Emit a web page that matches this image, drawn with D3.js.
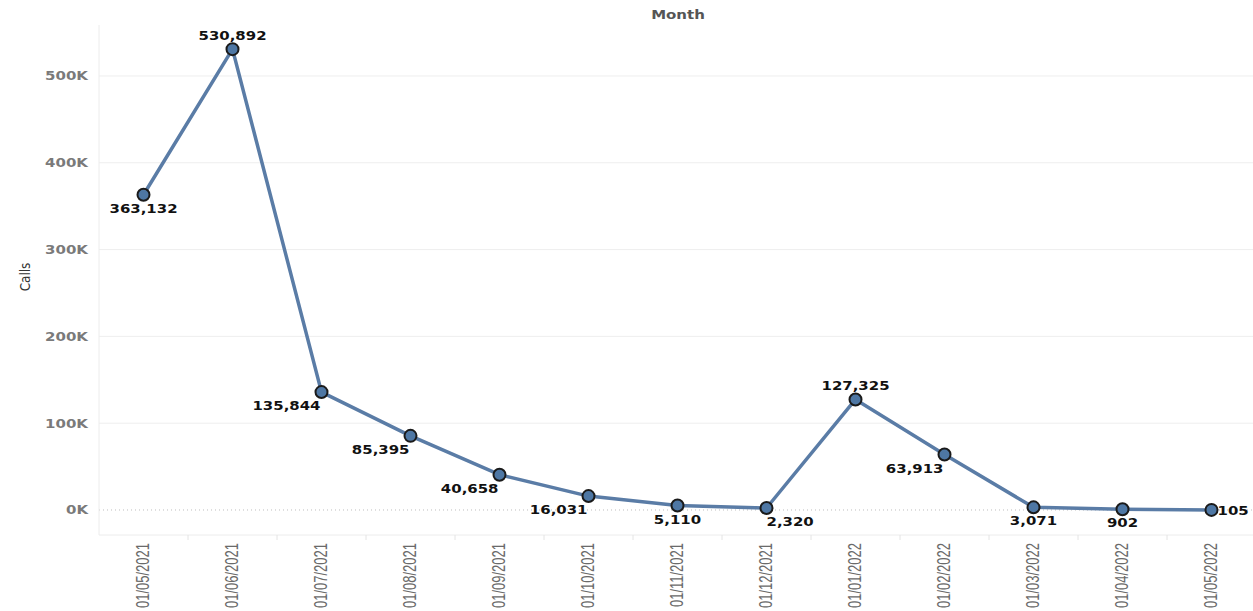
<!DOCTYPE html>
<html>
<head>
<meta charset="utf-8">
<script src="https://cdn.jsdelivr.net/npm/d3@7"></script>
<style>
  body { margin: 0; background: #fff; }
  svg { display: block; }
</style>
</head>
<body>
<div id="chart"></div>
<script>
// months on the x axis
const months = ["01/05/2021", "01/06/2021", "01/07/2021", "01/08/2021", "01/09/2021", "01/10/2021",
  "01/11/2021", "01/12/2021", "01/01/2022", "01/02/2022", "01/03/2022", "01/04/2022", "01/05/2022"];
// calls per month
const calls = [363132, 530892, 135844, 85395, 40658, 16031, 5110, 2320, 127325, 63913, 3071, 902, 105];
// where each value label sits: a = above, b = below, bl = below left, br = below right, r = right
const labelPos = ["b", "a", "bl", "bl", "bl", "bl", "b", "br", "a", "bl", "b", "b", "r"];
// y axis ticks
const yTicks = [0, 100000, 200000, 300000, 400000, 500000];

const W = 1253, H = 611;
const plot = { left: 99, right: 1256, top: 25, bottom: 535 };

const svg = d3.select("#chart").append("svg")
  .attr("width", W)
  .attr("height", H);

const x = d3.scaleBand().domain(months).range([plot.left, plot.right]).padding(0);
const y = d3.scaleLinear().domain([-28800, 558700]).range([plot.bottom, plot.top]);

// gridlines
svg.append("g").selectAll("line")
  .data(yTicks.filter(d => d > 0))
  .enter().append("line")
  .attr("x1", plot.left).attr("x2", W)
  .attr("y1", d => y(d)).attr("y2", d => y(d))
  .attr("stroke", "#eeeeee").attr("stroke-width", 1);

// zero line (dotted)
svg.append("line")
  .attr("x1", plot.left).attr("x2", W)
  .attr("y1", y(0)).attr("y2", y(0))
  .attr("stroke", "#bdbdbd").attr("stroke-width", 1)
  .attr("stroke-dasharray", "1,3");

// axis frame
svg.append("line")
  .attr("x1", plot.left).attr("x2", plot.left)
  .attr("y1", plot.top).attr("y2", plot.bottom)
  .attr("stroke", "#ececec");
svg.append("line")
  .attr("x1", plot.left).attr("x2", W)
  .attr("y1", plot.bottom).attr("y2", plot.bottom)
  .attr("stroke", "#ececec");

// small ticks between months
svg.append("g").selectAll("line")
  .data(months.slice(1))
  .enter().append("line")
  .attr("x1", d => x(d)).attr("x2", d => x(d))
  .attr("y1", plot.bottom).attr("y2", plot.bottom + 5)
  .attr("stroke", "#e4e4e4");

// y tick labels
svg.append("g").selectAll("text")
  .data(yTicks)
  .enter().append("text")
  .attr("transform", d => `translate(88,${y(d) + 4.5}) scale(1.2,1)`)
  .attr("text-anchor", "end")
  .style("font-family", "DejaVu Sans, sans-serif")
  .style("font-weight", "bold")
  .style("font-size", "12.5px")
  .style("fill", "#7a7a7a")
  .text(d => (d / 1000) + "K");

// x tick labels
svg.append("g").selectAll("text")
  .data(months)
  .enter().append("text")
  .attr("transform", d => `translate(${x(d) + x.bandwidth() / 2 + 5},543) rotate(-90) scale(1,1.4)`)
  .attr("text-anchor", "end")
  .style("font-family", "Liberation Sans, Arial, sans-serif")
  .style("font-size", "13px")
  .style("fill", "#6a6a6a")
  .text(d => d);

// axis titles
svg.append("text")
  .attr("transform", "translate(678,19) scale(1.2,1)")
  .attr("text-anchor", "middle")
  .style("font-family", "DejaVu Sans, sans-serif")
  .style("font-weight", "bold")
  .style("font-size", "12.5px")
  .style("fill", "#555")
  .text("Month");

svg.append("text")
  .attr("transform", "translate(30,277) rotate(-90) scale(1,1.2)")
  .attr("text-anchor", "middle")
  .style("font-family", "DejaVu Sans, sans-serif")
  .style("font-size", "12px")
  .style("fill", "#333")
  .text("Calls");

const pts = months.map((m, i) => ({ m, v: calls[i], pos: labelPos[i] }));
const cx = d => x(d.m) + x.bandwidth() / 2;

// line
svg.append("path")
  .datum(pts)
  .attr("fill", "none")
  .attr("stroke", "#5a7ca6")
  .attr("stroke-width", 3.5)
  .attr("stroke-linejoin", "round")
  .attr("d", d3.line().x(cx).y(d => y(d.v)));

// markers
svg.append("g").selectAll("circle")
  .data(pts)
  .enter().append("circle")
  .attr("cx", cx)
  .attr("cy", d => y(d.v))
  .attr("r", 6)
  .attr("fill", "#4e77a4")
  .attr("stroke", "#1a1a1a")
  .attr("stroke-width", 2);

// value labels
const fmt = d3.format(",");
const sx = 1.15;
svg.append("g").selectAll("text")
  .data(pts)
  .enter().append("text")
  .each(function (d) {
    const t = d3.select(this);
    let tx = cx(d), ty = y(d.v), anchor = "middle";
    if (d.pos === "a") { ty -= 9; }
    else if (d.pos === "b") { ty += 18; }
    else if (d.pos === "bl") { ty += 18; tx -= 1; anchor = "end"; }
    else if (d.pos === "br") { ty += 18; anchor = "start"; }
    else if (d.pos === "r") { ty += 5; tx += 6; anchor = "start"; }
    t.attr("text-anchor", anchor)
      .style("font-family", "DejaVu Sans, sans-serif")
      .style("font-weight", "bold")
      .style("font-size", "13px")
      .style("fill", "#111")
      .text(fmt(d.v));
    // keep centered labels clear of the y axis
    if (anchor === "middle") {
      const w = this.getComputedTextLength() * sx;
      if (tx - w / 2 < plot.left) tx = plot.left + w / 2;
    }
    t.attr("transform", `translate(${tx},${ty}) scale(${sx},1)`);
  });
</script>
</body>
</html>
